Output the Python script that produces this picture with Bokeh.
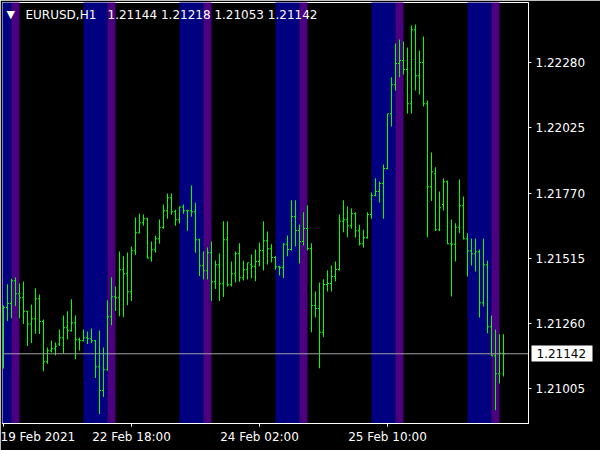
from bokeh.plotting import figure
from bokeh.models import Range1d, FixedTicker, PrintfTickFormatter, Label, Span, LinearAxis
from bokeh.embed import file_html
from bokeh.resources import INLINE

symbol = "EURUSD,H1"

opens = [1.21233, 1.21323, 1.21339, 1.21428, 1.21377, 1.21361, 1.21308, 1.21258, 1.21279, 1.21357,
         1.21268, 1.21111, 1.21154, 1.21162, 1.21180, 1.21205, 1.21244, 1.21232, 1.21263, 1.21197,
         1.21193, 1.21205, 1.21201, 1.21193, 1.21091, 1.20998, 1.21080, 1.21287, 1.21365, 1.21361,
         1.21471, 1.21455, 1.21385, 1.21545, 1.21615, 1.21654, 1.21670, 1.21517, 1.21549, 1.21592,
         1.21635, 1.21701, 1.21752, 1.21697, 1.21666, 1.21716, 1.21701, 1.21701, 1.21697, 1.21588,
         1.21486, 1.21467, 1.21537, 1.21424, 1.21490, 1.21416, 1.21588, 1.21412, 1.21455, 1.21533,
         1.21439, 1.21471, 1.21490, 1.21484, 1.21503, 1.21546, 1.21584, 1.21553, 1.21519, 1.21482,
         1.21478, 1.21570, 1.21550, 1.21679, 1.21624, 1.21581, 1.21632, 1.21554, 1.21331, 1.21319,
         1.21226, 1.21413, 1.21417, 1.21444, 1.21472, 1.21660, 1.21666, 1.21643, 1.21690, 1.21623,
         1.21572, 1.21596, 1.21687, 1.21761, 1.21777, 1.21808, 1.21867, 1.22081, 1.22194, 1.22277,
         1.22289, 1.22254, 1.22120, 1.22409, 1.22229, 1.22281, 1.22120, 1.21795, 1.21846, 1.21627,
         1.21726, 1.21815, 1.21572, 1.21570, 1.21637, 1.21721, 1.21592, 1.21545, 1.21533, 1.21541,
         1.21342, 1.21490, 1.21248, 1.21134, 1.21064, 1.21144]

highs = [1.21331, 1.21414, 1.21435, 1.21441, 1.21417, 1.21425, 1.21310, 1.21335, 1.21398, 1.21374,
         1.21276, 1.21167, 1.21194, 1.21186, 1.21237, 1.21292, 1.21308, 1.21355, 1.21292, 1.21206,
         1.21237, 1.21229, 1.21241, 1.21196, 1.21233, 1.21167, 1.21351, 1.21441, 1.21405, 1.21542,
         1.21523, 1.21538, 1.21562, 1.21675, 1.21691, 1.21687, 1.21674, 1.21581, 1.21605, 1.21667,
         1.21726, 1.21769, 1.21769, 1.21705, 1.21718, 1.21726, 1.21705, 1.21800, 1.21733, 1.21592,
         1.21542, 1.21558, 1.21581, 1.21507, 1.21534, 1.21660, 1.21660, 1.21503, 1.21542, 1.21574,
         1.21506, 1.21499, 1.21530, 1.21550, 1.21577, 1.21660, 1.21620, 1.21570, 1.21523, 1.21486,
         1.21574, 1.21605, 1.21742, 1.21742, 1.21648, 1.21695, 1.21722, 1.21574, 1.21386, 1.21421,
         1.21433, 1.21469, 1.21487, 1.21503, 1.21687, 1.21742, 1.21718, 1.21710, 1.21695, 1.21647,
         1.21627, 1.21695, 1.21773, 1.21828, 1.21816, 1.21882, 1.22082, 1.22223, 1.22355, 1.22371,
         1.22363, 1.22340, 1.22426, 1.22430, 1.22328, 1.22383, 1.22133, 1.21929, 1.21871, 1.21777,
         1.21828, 1.21820, 1.21667, 1.21652, 1.21824, 1.21757, 1.21613, 1.21593, 1.21593, 1.21550,
         1.21593, 1.21507, 1.21292, 1.21237, 1.21218, 1.21218]

lows = [1.21084, 1.21270, 1.21281, 1.21328, 1.21281, 1.21258, 1.21172, 1.21184, 1.21220, 1.21219,
        1.21074, 1.21103, 1.21147, 1.21136, 1.21172, 1.21143, 1.21198, 1.21228, 1.21121, 1.21155,
        1.21190, 1.21180, 1.21184, 1.21047, 1.20906, 1.20973, 1.21076, 1.21254, 1.21309, 1.21289,
        1.21285, 1.21332, 1.21348, 1.21528, 1.21612, 1.21643, 1.21514, 1.21502, 1.21537, 1.21572,
        1.21631, 1.21670, 1.21686, 1.21643, 1.21651, 1.21690, 1.21623, 1.21678, 1.21537, 1.21446,
        1.21432, 1.21432, 1.21348, 1.21395, 1.21348, 1.21364, 1.21405, 1.21405, 1.21421, 1.21424,
        1.21429, 1.21432, 1.21437, 1.21426, 1.21484, 1.21468, 1.21491, 1.21499, 1.21471, 1.21448,
        1.21438, 1.21523, 1.21546, 1.21562, 1.21495, 1.21565, 1.21546, 1.21226, 1.21284, 1.21085,
        1.21207, 1.21386, 1.21386, 1.21425, 1.21468, 1.21617, 1.21598, 1.21631, 1.21596, 1.21565,
        1.21557, 1.21592, 1.21670, 1.21758, 1.21734, 1.21670, 1.21864, 1.22031, 1.22172, 1.22223,
        1.22234, 1.22082, 1.22082, 1.22172, 1.22156, 1.22109, 1.21598, 1.21739, 1.21622, 1.21622,
        1.21702, 1.21570, 1.21366, 1.21503, 1.21613, 1.21589, 1.21444, 1.21487, 1.21464, 1.21284,
        1.21327, 1.21222, 1.21132, 1.20921, 1.21026, 1.21053]

closes = [1.21323, 1.21339, 1.21428, 1.21377, 1.21361, 1.21308, 1.21258, 1.21279, 1.21357, 1.21268,
          1.21111, 1.21154, 1.21162, 1.21171, 1.21205, 1.21244, 1.21232, 1.21263, 1.21197, 1.21193,
          1.21205, 1.21201, 1.21193, 1.21091, 1.20998, 1.21080, 1.21287, 1.21365, 1.21361, 1.21471,
          1.21455, 1.21385, 1.21545, 1.21615, 1.21654, 1.21670, 1.21517, 1.21549, 1.21592, 1.21635,
          1.21701, 1.21752, 1.21697, 1.21666, 1.21716, 1.21701, 1.21701, 1.21697, 1.21588, 1.21486,
          1.21467, 1.21537, 1.21424, 1.21490, 1.21416, 1.21588, 1.21412, 1.21455, 1.21533, 1.21439,
          1.21471, 1.21498, 1.21484, 1.21503, 1.21546, 1.21584, 1.21553, 1.21519, 1.21482, 1.21478,
          1.21570, 1.21550, 1.21679, 1.21624, 1.21581, 1.21632, 1.21554, 1.21331, 1.21319, 1.21226,
          1.21413, 1.21417, 1.21444, 1.21472, 1.21660, 1.21666, 1.21643, 1.21690, 1.21623, 1.21572,
          1.21596, 1.21687, 1.21761, 1.21777, 1.21808, 1.21867, 1.22081, 1.22194, 1.22277, 1.22289,
          1.22254, 1.22120, 1.22409, 1.22229, 1.22281, 1.22120, 1.21795, 1.21854, 1.21627, 1.21713,
          1.21815, 1.21572, 1.21570, 1.21637, 1.21721, 1.21592, 1.21545, 1.21533, 1.21541, 1.21342,
          1.21490, 1.21248, 1.21134, 1.21064, 1.21144, 1.21142]

# session boxes, in bar index (hourly bars; bar 0 = 19 Feb 2021 10:00)
session_start = [-4, 20, 44, 68, 92, 116]   # 06:00
session_mid = [2, 26, 50, 74, 98, 122]      # 12:00
session_end = [4, 28, 52, 76, 100, 124]     # 14:00

x_ticks = [0, 32, 64, 96]
x_tick_labels = ["19 Feb 2021", "22 Feb 18:00", "24 Feb 02:00", "25 Feb 10:00"]
y_ticks = [1.21005, 1.21260, 1.21515, 1.21770, 1.22025, 1.22280]

Y_MIN, Y_MAX = 1.208693, 1.225158
idx = list(range(len(closes)))

FONT = "DejaVu Sans"

p = figure(width=600, height=450, output_backend="svg", toolbar_location=None,
           x_range=Range1d(-0.25, 131.25), y_range=Range1d(Y_MIN, Y_MAX),
           y_axis_location="right",
           min_border_left=2, min_border_top=2, min_border_right=72, min_border_bottom=27,
           background_fill_color="black", border_fill_color="black",
           outline_line_color="white", outline_line_width=1)
p.grid.visible = False

# session bands
p.quad(left=session_start, right=session_mid, bottom=Y_MIN - 1, top=Y_MAX + 1,
       fill_color="#000080", line_color=None)
p.quad(left=session_mid, right=session_end, bottom=Y_MIN - 1, top=Y_MAX + 1,
       fill_color="#4B0082", line_color=None)

# OHLC bars (1px wide bodies, 1px open/close ticks)
bar_color = "#00FF00"
p.vbar(x=idx, width=0.25, bottom=lows, top=highs, fill_color=bar_color, line_color=None)
p.rect(x=[i - 0.25 for i in idx], y=opens, width=0.25, height=1, height_units="screen",
       fill_color=bar_color, line_color=None)
p.rect(x=[i + 0.25 for i in idx], y=closes, width=0.25, height=1, height_units="screen",
       fill_color=bar_color, line_color=None)

# bid line
p.add_layout(Span(location=closes[-1], dimension="width", line_color="#A0A0A0", line_width=1))

# axes
ya = p.yaxis[0]
ya.ticker = FixedTicker(ticks=y_ticks)
ya.formatter = PrintfTickFormatter(format="%.5f")
ya.minor_tick_line_color = None
ya.major_tick_in = 0
ya.major_tick_out = 3
ya.major_tick_line_color = "white"
ya.axis_line_color = "white"
ya.major_label_standoff = 4
ya.major_label_text_color = "white"
ya.major_label_text_font = FONT
ya.major_label_text_font_size = "12px"

# current price tag: a second right axis with a single thick white tick as the box
tag = LinearAxis(ticker=FixedTicker(ticks=[closes[-1]]),
                 formatter=PrintfTickFormatter(format="%.5f"),
                 axis_line_color=None, minor_tick_line_color=None,
                 major_tick_in=57, major_tick_out=4,
                 major_tick_line_color="white", major_tick_line_width=16,
                 major_label_standoff=-56,
                 major_label_text_color="black", major_label_text_font=FONT,
                 major_label_text_font_size="12px")
p.add_layout(tag, "right")

xa = p.xaxis[0]
xa.ticker = FixedTicker(ticks=x_ticks)
xa.major_label_overrides = {t: s for t, s in zip(x_ticks, x_tick_labels)}
xa.minor_tick_line_color = None
xa.major_tick_in = 0
xa.major_tick_out = 3
xa.major_tick_line_color = "white"
xa.axis_line_color = "white"
xa.major_label_standoff = 3
xa.major_label_text_align = "left"
xa.major_label_text_color = "white"
xa.major_label_text_font = FONT
xa.major_label_text_font_size = "12px"

# header
p.add_layout(Label(x=4, y=409, x_units="screen", y_units="screen", text="\u25BC",
                   text_color="white", text_font=FONT, text_font_size="11px",
                   text_baseline="middle"))
p.add_layout(Label(x=23, y=409, x_units="screen", y_units="screen", text=symbol,
                   text_color="white", text_font=FONT, text_font_size="12px",
                   text_baseline="middle"))
p.add_layout(Label(x=105, y=409, x_units="screen", y_units="screen",
                   text=f"{opens[-1]:.5f} {highs[-1]:.5f} {lows[-1]:.5f} {closes[-1]:.5f}",
                   text_color="white", text_font=FONT, text_font_size="12px",
                   text_baseline="middle"))

open("out.html", "w").write(file_html(p, INLINE))
